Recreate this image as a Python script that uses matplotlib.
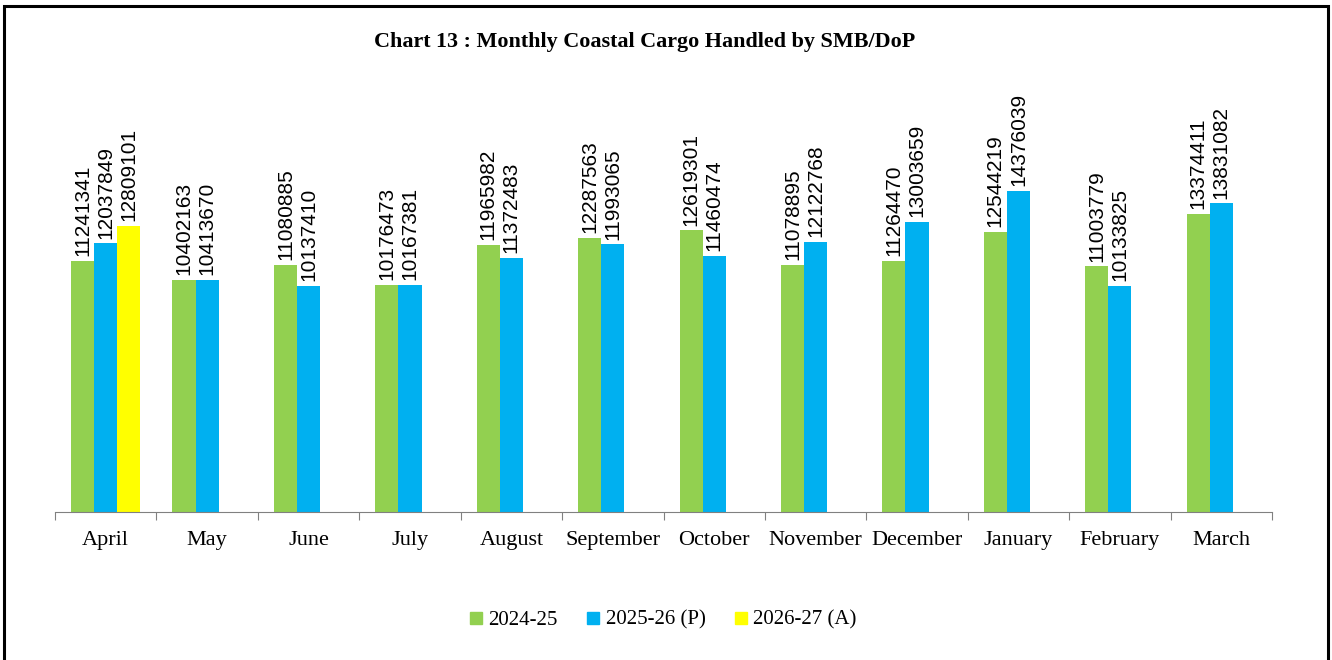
import matplotlib
matplotlib.use("Agg")
import matplotlib.pyplot as plt
import numpy as np
from matplotlib.patches import Rectangle
from matplotlib.lines import Line2D

months = ["April", "May", "June", "July", "August", "September", "October",
          "November", "December", "January", "February", "March"]
s2024 = [11241341, 10402163, 11080885, 10176473, 11965982, 12287563, 12619301,
         11078895, 11264470, 12544219, 11003779, 13374411]
s2025 = [12037849, 10413670, 10137410, 10167381, 11372483, 11993065, 11460474,
         12122768, 13003659, 14376039, 10133825, 13831082]
s2026 = [12809101]
series_names = ["2024-25", "2025-26 (P)", "2026-27 (A)"]
colors = ["#92D050", "#00B0F0", "#FFFF00"]

serif = ["Liberation Serif", "DejaVu Serif"]
lab_font = ["Liberation Sans", "DejaVu Sans"]

fig = plt.figure(figsize=(13.32, 6.6), dpi=100)
fig.patches.append(Rectangle((3.5/1332, -0.01), (1328-3.5)/1332, 1 - 6/660 + 0.01,
                             transform=fig.transFigure, fill=False,
                             edgecolor="black", linewidth=2.2, zorder=10))

ax = fig.add_axes([55/1332, 1 - 512/660, (1272-55)/1332, 357/660])
x = np.arange(len(months))
w = 0.228
all_series = [s2024, s2025, s2026]
for i, (vals, c) in enumerate(zip(all_series, colors)):
    xs = x[:len(vals)] + (i - 1) * w
    ax.bar(xs, vals, width=w, color=c, label=series_names[i], zorder=2)
    for xi, v in zip(xs, vals):
        ax.annotate(str(v), (xi, v), xytext=(0, 3.5), textcoords="offset points",
                    rotation=90, ha="center", va="bottom", fontsize=15,
                    family=lab_font, clip_on=False)

ax.set_xlim(-0.5, len(months) - 0.5)
ax.set_ylim(0, 16e6)
ax.set_yticks([])
for s in ["top", "right", "left"]:
    ax.spines[s].set_visible(False)
ax.spines["bottom"].set_color("#808080")
ax.set_xticks(np.arange(-0.5, len(months), 1.0), minor=False)
ax.set_xticklabels([])
ax.tick_params(axis="x", which="major", length=6, color="#808080", direction="out")
ax.set_xticks(x, minor=True)
ax.set_xticklabels(months, minor=True, family=serif, fontsize=16)
ax.tick_params(axis="x", which="minor", length=0, pad=14)

fig.text(645/1332, 1 - 42/660, "Chart 13 : Monthly Coastal Cargo Handled by SMB/DoP",
         ha="center", va="center", family=serif, fontsize=15.9, fontweight="bold")

handles = [Line2D([], [], marker="s", linestyle="none", markersize=8.5,
                  markerfacecolor=c, markeredgecolor=c) for c in colors]
fig.legend(handles, series_names, loc="center", bbox_to_anchor=(661/1332, 1 - 620/660),
           ncol=3, frameon=False, prop={"family": serif, "size": 15},
           handletextpad=0.1, columnspacing=1.2, handlelength=1.0)

fig.savefig("out.png", dpi=100)
